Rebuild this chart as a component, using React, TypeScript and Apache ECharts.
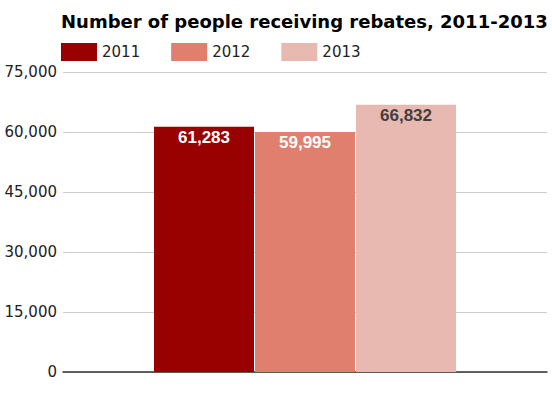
import React, { useEffect, useRef } from "react";
import * as echarts from "echarts";

const seriesNames = ["2011", "2012", "2013"];
const values = [61283, 59995, 66832];
const colors = ["#990000", "#e07f6e", "#e7b9b1"];
const labelColors = ["#ffffff", "#ffffff", "#404040"];
const yTicks = { min: 0, max: 75000, interval: 15000 };

export default function App() {
  const ref = useRef<HTMLDivElement>(null);
  useEffect(() => {
    const chart = echarts.init(ref.current!, null, { renderer: "svg" });
    chart.setOption({
      animation: false,
      textStyle: { fontFamily: "DejaVu Sans, sans-serif" },
      title: {
        text: "Number of people receiving rebates, 2011-2013",
        left: 56,
        top: 7,
        textStyle: { fontSize: 18, fontWeight: "bold", color: "#000", fontFamily: "DejaVu Sans, sans-serif" },
      },
      legend: {
        left: 56,
        top: 38,
        itemWidth: 36,
        itemHeight: 18,
        itemGap: 31,
        icon: "rect",
        textStyle: { fontSize: 15, color: "#222", fontFamily: "DejaVu Sans, sans-serif" },
        data: seriesNames,
      },
      grid: { left: 63, right: 5, top: 72, bottom: 26, containLabel: false },
      xAxis: {
        type: "category",
        data: [""],
        axisLabel: { show: false },
        axisTick: { show: false },
        axisLine: { lineStyle: { color: "#333", width: 1.5 } },
      },
      yAxis: {
        type: "value",
        min: yTicks.min,
        max: yTicks.max,
        interval: yTicks.interval,
        axisLabel: {
          fontSize: 15,
          color: "#222",
          margin: 6,
          fontFamily: "DejaVu Sans, sans-serif",
          formatter: (v: number) => v.toLocaleString("en-US"),
        },
        splitLine: { lineStyle: { color: "#cccccc" } },
        axisLine: { show: false },
        axisTick: { show: false },
      },
      series: seriesNames.map((name, i) => ({
        name,
        type: "bar",
        data: [values[i]],
        barWidth: 100,
        barGap: "1%",
        itemStyle: { color: colors[i] },
        label: {
          show: true,
          position: "insideTop",
          distance: 2,
          fontSize: 17,
          fontWeight: "bold",
          fontFamily: "Liberation Sans, Arial, sans-serif",
          color: labelColors[i],
          formatter: (p: any) => Number(p.value).toLocaleString("en-US"),
        },
      })),
    });
    return () => chart.dispose();
  }, []);
  return <div ref={ref} style={{ width: 552, height: 398, position: "absolute", left: 0, top: 0 }} />;
}
